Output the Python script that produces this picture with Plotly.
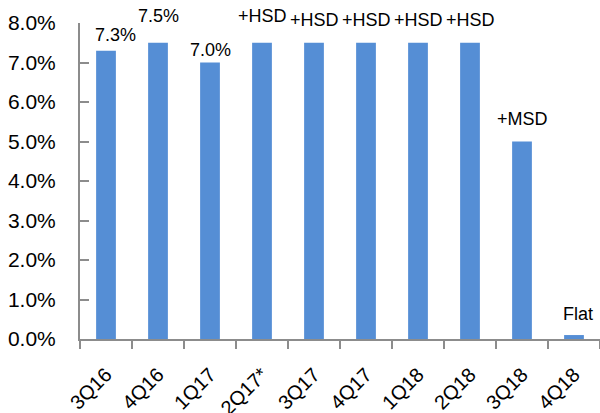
import plotly.graph_objects as go

categories = ["3Q16", "4Q16", "1Q17", "2Q17*", "3Q17", "4Q17", "1Q18", "2Q18", "3Q18", "4Q18"]
values = [7.3, 7.5, 7.0, 7.5, 7.5, 7.5, 7.5, 7.5, 5.0, 0.1]
labels = ["7.3%", "7.5%", "7.0%", "+HSD", "+HSD", "+HSD", "+HSD", "+HSD", "+MSD", "Flat"]
label_yshift = [4, 15, 1, 15, 11, 11, 11, 11, 11, 9]
label_xshift = [9, 0, 0, 0, 0, 0, 0, 0, 0, 4]
y_ticks = [0, 1, 2, 3, 4, 5, 6, 7, 8]

FONT = "Liberation Sans, Arial, sans-serif"

fig = go.Figure(go.Bar(
    x=categories, y=values, marker=dict(color="#558ED5", line=dict(width=0)),
    width=0.38,
))

for c, v, t, ys, xs in zip(categories, values, labels, label_yshift, label_xshift):
    fig.add_annotation(x=c, y=v, text=t, showarrow=False, yanchor="bottom",
                       yshift=ys, xshift=xs, font=dict(size=18, color="#000", family=FONT))

fig.update_layout(
    width=600, height=413,
    margin=dict(l=80, r=0, t=23, b=74),
    paper_bgcolor="white", plot_bgcolor="white",
    showlegend=False,
    font=dict(family=FONT, color="#000"),
    bargap=0.62,
)
fig.update_xaxes(
    type="category", showline=True, linecolor="#8c8c8c", linewidth=2,
    ticks="outside", tickson="boundaries", ticklen=8, tickcolor="#8c8c8c", tickwidth=2,
    tickangle=-45, tickfont=dict(size=20, family=FONT, color="#000"),
    ticklabelstandoff=14, automargin=False,
    showgrid=False, range=[-0.5, 9.5],
)
fig.update_yaxes(
    range=[0, 8], tickvals=y_ticks, ticktext=[f"{v:.1f}%" for v in y_ticks],
    showline=True, linecolor="#8c8c8c", linewidth=2,
    ticks="inside", ticklen=9, tickcolor="#8c8c8c", tickwidth=2,
    tickfont=dict(size=21, family=FONT, color="#000"),
    ticklabelstandoff=18, automargin=False,
    showgrid=False, zeroline=False,
)

fig.write_html("out.html")
